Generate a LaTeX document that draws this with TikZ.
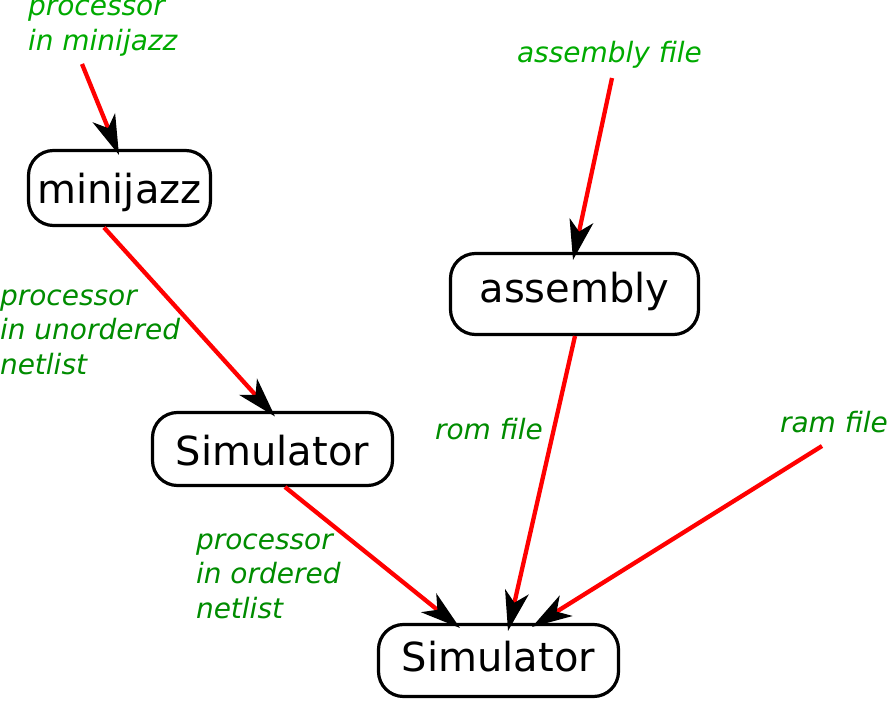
\documentclass[tikz,border=0pt]{standalone}
\usepackage{fontspec}
\setmainfont{DejaVu Sans}
\usetikzlibrary{arrows.meta,calc}
\definecolor{lgreen}{RGB}{0,170,0}
\definecolor{dgreen}{RGB}{0,140,0}
\begin{document}
\begin{tikzpicture}[x=1pt,y=-1pt,
  box/.style={draw=black,line width=3.2pt,rounded corners=25pt,fill=white,inner sep=0pt,outer sep=0pt,
    font=\fontsize{40}{48}\selectfont,text depth=0pt},
  lbl/.style={font=\fontsize{28}{34.5}\selectfont\itshape,align=left,inner sep=0pt,outer sep=0pt,anchor=base west},
  flow/.style={draw=red,line width=4.3pt,-{Stealth[black,length=40pt,width=24pt,inset=11pt]}}]
\useasboundingbox[fill=white] (0,0) rectangle (887,701);
% nodes
\node[box,minimum width=182pt,minimum height=75pt,text height=30pt] (mini) at (119.5,188) {minijazz};
\node[box,minimum width=248pt,minimum height=81pt,text height=16pt] (asm) at (574.5,294) {assembly};
\node[box,minimum width=240pt,minimum height=73pt,text height=32pt] (sim1) at (272.5,449) {Simulator};
\node[box,minimum width=240pt,minimum height=72pt,text height=22pt] (sim2) at (498.5,660.5) {Simulator};
% labels (anchor = baseline of the last line)
\node[lbl,text=lgreen] (l1) at (28,50.5) {processor\\in minijazz};
\node[lbl,text=lgreen] (l2) at (517,63) {assembly file};
\node[lbl,text=dgreen] (l3) at (0,374) {processor\\in unordered\\netlist};
\node[lbl,text=dgreen] (l4) at (435,439) {rom file};
\node[lbl,text=dgreen] (l5) at (780,432) {ram file};
\node[lbl,text=dgreen] (l6) at (196,618) {processor\\in ordered\\netlist};
% free ends
\coordinate (s1) at (82,64);
\coordinate (s4) at (612,78);
\coordinate (s6) at (822,446);
% connectors
\draw[flow] (s1) -- ($(mini.north)+(-0.5,4.5)$);
\draw[flow] ($(mini.south)+(-15.5,2)$) -- ($(sim1.north)+(2.5,4)$);
\draw[flow] ($(sim1.south)+(12.5,1.5)$) -- ($(sim2.north)+(-38.5,3.5)$);
\draw[flow] (s4) -- ($(asm.north)+(-1.5,6.5)$);
\draw[flow] ($(asm.south)+(0.5,1.5)$) -- ($(sim2.north)+(9.5,6.5)$);
\draw[flow] (s6) -- ($(sim2.north)+(33.5,2.5)$);
\end{tikzpicture}
\end{document}
